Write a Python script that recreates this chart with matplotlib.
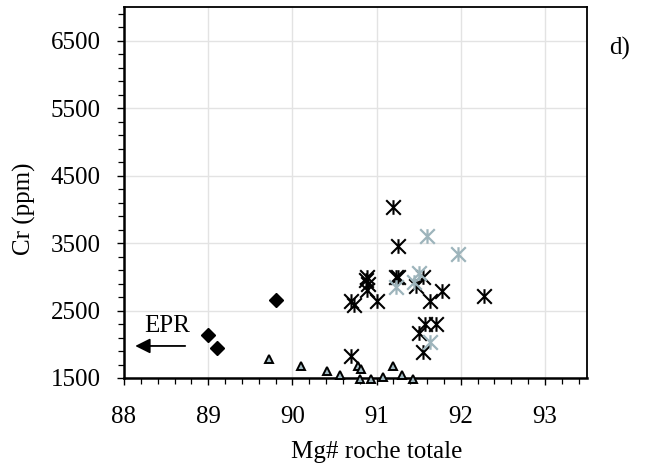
import numpy as np
import matplotlib
matplotlib.use('Agg')
import matplotlib.pyplot as plt
from matplotlib.path import Path
from matplotlib.ticker import FixedLocator

plt.rcParams['font.family'] = ['Liberation Serif', 'DejaVu Serif']

# diamants noirs
dia_x = [89.0, 89.1, 89.8]
dia_cr = [2140, 1950, 2650]

# triangles
tri_x = [89.72, 90.10, 90.41, 90.56, 90.78, 90.82, 90.80, 90.94, 91.08, 91.20, 91.30, 91.43]
tri_cr = [1780, 1680, 1605, 1540, 1680, 1640, 1490, 1490, 1520, 1680, 1540, 1490]

# etoiles noires
ast_x = [91.19, 91.25, 90.89, 90.87, 90.90, 90.89, 90.70, 90.73, 91.01, 91.23, 91.26,
         91.55, 91.47, 91.64, 91.78, 92.28, 91.57, 91.71, 91.51, 91.55, 90.70]
ast_cr = [4030, 3460, 3000, 2950, 2900, 2800, 2640, 2575, 2640, 3000, 3000,
          3000, 2870, 2640, 2790, 2715, 2300, 2300, 2170, 1880, 1830]

# etoiles grises
gast_x = [91.60, 91.97, 91.51, 91.45, 91.23, 91.64]
gast_cr = [3610, 3340, 3060, 2930, 2855, 2035]

xticks = [88, 89, 90, 91, 92, 93]
yticks = [1500, 2500, 3500, 4500, 5500, 6500]

# marqueur asterisque (X + trait vertical)
a = 1.0
star = Path([(0, -1), (0, 1), (-a, -1), (a, 1), (-a, 1), (a, -1)],
            [Path.MOVETO, Path.LINETO, Path.MOVETO, Path.LINETO, Path.MOVETO, Path.LINETO])

fs = 18

fig = plt.figure(figsize=(6.5, 4.68), dpi=100)
ax = fig.add_axes([124 / 650, 1 - 378 / 468, 463 / 650, 371 / 468])

ax.plot(tri_x, tri_cr, '^', ms=6, mfc='#a3bcc4', mec='black', mew=1.4, ls='none', clip_on=False, zorder=3)
ax.plot(dia_x, dia_cr, 'D', ms=7, color='black', ls='none', zorder=3)
ax.plot(ast_x, ast_cr, marker=star, ms=10.5, color='black', mew=1.5, ls='none', zorder=4)
ax.plot(gast_x, gast_cr, marker=star, ms=10.5, color='#9db4bb', mew=1.6, ls='none', zorder=5)

# fleche EPR
ax.annotate('', xy=(88.1, 1975), xytext=(88.76, 1975),
            arrowprops=dict(arrowstyle='-|>,head_length=0.9,head_width=0.45', color='black', lw=1.3))
ax.text(88.51, 2270, 'EPR', fontsize=fs, ha='center', va='center')

ax.set_xlim(88, 93.5)
ax.set_ylim(1500, 7000)
ax.xaxis.set_major_locator(FixedLocator(xticks))
ax.yaxis.set_major_locator(FixedLocator(yticks))
ax.xaxis.set_minor_locator(FixedLocator(np.arange(88, 93.51, 0.2)))
ax.yaxis.set_minor_locator(FixedLocator(np.arange(1500, 7001, 200)))
ax.grid(True, which='major', color='#e3e3e3', lw=1.0)
ax.set_axisbelow(True)

ax.tick_params(which='major', direction='out', length=5, width=1.0, labelsize=fs, pad=15)
ax.tick_params(which='minor', direction='out', length=4, width=0.9)
ax.tick_params(axis='y', which='major', pad=12)
for s in ax.spines.values():
    s.set_linewidth(1.3)
ax.spines['left'].set_linewidth(1.8)
ax.spines['bottom'].set_linewidth(1.8)

ax.set_xlabel('Mg# roche totale', fontsize=fs)
ax.xaxis.set_label_coords((377 - 124) / 463, (378 - 452) / 371)
ax.xaxis.label.set_va('center')
ax.set_ylabel('Cr (ppm)', fontsize=fs)
ax.yaxis.set_label_coords((24 - 124) / 463, (378 - 209) / 371)
ax.yaxis.label.set_va('center')

fig.text(620 / 650, 1 - 48 / 468, 'd)', fontsize=fs, ha='center', va='center')

fig.savefig('out.png', dpi=100)
